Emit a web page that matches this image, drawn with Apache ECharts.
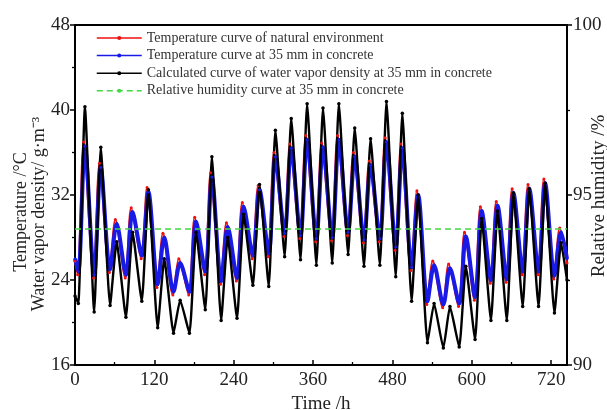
<!DOCTYPE html>
<html>
<head>
<meta charset="utf-8">
<script src="https://cdn.jsdelivr.net/npm/echarts@6/dist/echarts.min.js"></script>
<style>
html,body{margin:0;padding:0;background:#fff;}
#chart{width:607px;height:410px;}
</style>
</head>
<body>
<div id="chart"></div>
<script>
// Time (h) of readings: start, then daily trough / peak, then end
const hours = [0,5,15,29,39,53,63,77,87,101,111,125,135,149,159,173,183,197,207,221,231,245,255,269,279,293,303,317,327,341,351,365,375,389,399,413,423,437,447,461,471,485,495,509,519,533,543,557,567,581,591,605,615,629,639,653,663,677,687,701,711,725,735,744];
const naturalHours = [0,4,13,28,37,52,61,76,85,100,109,124,133,148,157,172,181,196,205,220,229,244,253,268,277,292,301,316,325,340,349,364,373,388,397,412,421,436,445,460,469,484,493,508,517,532,541,556,565,580,589,604,613,628,637,652,661,676,685,700,709,724,733,744];

// Temperature of natural environment (°C)
const tempNatural = [25.8, 24.5,37.0, 24.2,35.0, 24.7,29.7, 24.2,30.8, 26.0,32.7, 23.3,28.4, 22.6,26.0, 22.6,29.9, 24.5,34.1, 23.6,29.4, 23.9,31.3, 26.0,32.9, 26.2,36.0, 28.1,36.8, 27.9,37.6, 27.6,36.9, 27.7,37.6, 28.2,36.0, 27.5,35.2, 27.6,37.4, 26.8,36.8, 24.9,32.4, 21.7,25.8, 21.4,25.5, 21.5,28.5, 22.1,30.9, 23.7,31.4, 23.8,32.6, 24.5,33.0, 24.5,33.5, 24.1,28.9, 25.6];

// Temperature at 35 mm in concrete (°C)
const temp35 = [26.0, 24.8,36.6, 24.5,34.6, 25.0,29.3, 24.5,30.4, 26.3,32.3, 23.6,28.0, 22.9,25.6, 22.9,29.5, 24.8,33.7, 23.9,29.0, 24.2,30.9, 26.3,32.5, 26.5,35.6, 28.4,36.4, 28.2,37.2, 27.9,36.5, 28.0,37.2, 28.5,35.6, 27.8,34.8, 27.9,37.0, 27.1,36.4, 25.2,32.0, 22.0,25.4, 21.7,25.1, 21.8,28.1, 22.4,30.5, 24.0,31.0, 24.1,32.2, 24.8,32.6, 24.8,33.1, 24.4,28.5, 26.0];

// Calculated water vapor density at 35 mm (g/m3)
const vaporDensity = [22.5, 21.8,40.3, 21.0,36.5, 21.6,27.6, 20.5,28.5, 22.0,32.5, 19.5,26.0, 19.0,22.1, 19.0,28.5, 21.2,35.6, 20.2,28.0, 20.4,30.2, 23.5,33.0, 23.4,38.1, 26.2,39.2, 25.9,40.6, 25.4,40.2, 25.6,40.6, 26.4,38.3, 25.3,37.3, 25.4,40.8, 24.3,39.7, 22.0,32.0, 18.1,21.8, 17.6,21.5, 17.7,25.3, 18.4,29.8, 20.2,30.5, 20.2,32.2, 21.5,32.6, 21.5,33.1, 20.9,27.5, 24.0];

// Relative humidity at 35 mm (%)
const rhHours = [0, 744];
const rhValues = [94.0, 94.0];

const xTicks = {min: 0, max: 744, interval: 120};
const leftTicks = {min: 16, max: 48, interval: 8};
const rightTicks = {min: 90, max: 100, interval: 5};

const names = [
  'Temperature curve of natural environment',
  'Temperature curve at 35 mm in concrete',
  'Calculated curve of water vapor density at 35 mm in concrete',
  'Relative humidity curve at 35 mm in concrete'
];
const leftNames = ['Temperature /°C', 'Water vapor density/ g·m⁻³'];
const rightName = 'Relative humidity /%';

function zip(xs, ys) { return xs.map((x, i) => [x, ys[i]]); }

const FONT = 'Liberation Serif';
const chart = echarts.init(document.getElementById('chart'), null, {renderer: 'canvas'});
const axisLineStyle = {color: '#000', width: 2};
const tickFont = {fontFamily: FONT, fontSize: 19, color: '#222'};

chart.setOption({
  animation: false,
  grid: {left: 75, right: 40, top: 25, bottom: 45, containLabel: false, outerBoundsMode: 'none'},
  legend: {
    orient: 'vertical', left: 91, top: 26,
    itemWidth: 45, itemHeight: 5, itemGap: 3.6,
    lineStyle: {width: 1.5},
    textStyle: {fontFamily: FONT, fontSize: 14, lineHeight: 14, color: '#333'},
    data: names
  },
  xAxis: [{
    type: 'value', min: xTicks.min, max: xTicks.max, interval: xTicks.interval,
    axisLine: {show: true, onZero: false, lineStyle: axisLineStyle},
    axisTick: {show: true, inside: true, length: 5, lineStyle: {width: 1.5}},
    minorTick: {show: true, splitNumber: 2, length: 3, lineStyle: {color: '#000', width: 1.3}},
    axisLabel: Object.assign({showMaxLabel: false, margin: 6}, tickFont),
    splitLine: {show: false},
    name: 'Time /h', nameLocation: 'middle', nameGap: 26,
    nameTextStyle: {fontFamily: FONT, fontSize: 19, color: '#222'}
  }, {
    type: 'value', position: 'top', min: xTicks.min, max: xTicks.max,
    axisLine: {show: true, onZero: false, lineStyle: axisLineStyle},
    axisTick: {show: false}, axisLabel: {show: false}, splitLine: {show: false}
  }],
  yAxis: [{
    type: 'value', min: leftTicks.min, max: leftTicks.max, interval: leftTicks.interval,
    axisLine: {show: true, onZero: false, lineStyle: axisLineStyle},
    axisTick: {show: true, length: 5, lineStyle: {width: 1.5}},
    minorTick: {show: true, splitNumber: 2, length: 3, lineStyle: {color: '#000', width: 1.3}},
    axisLabel: Object.assign({margin: 5}, tickFont),
    splitLine: {show: false}
  }, {
    type: 'value', position: 'right', min: rightTicks.min, max: rightTicks.max, interval: rightTicks.interval,
    axisLine: {show: true, onZero: false, lineStyle: axisLineStyle},
    axisTick: {show: true, length: 5, lineStyle: {width: 1.5}},
    minorTick: {show: true, splitNumber: 2, length: 3, lineStyle: {color: '#000', width: 1.3}},
    axisLabel: Object.assign({margin: 6}, tickFont),
    splitLine: {show: false}
  }],
  graphic: [{
    type: 'text', x: 21, y: 212, rotation: Math.PI / 2,
    style: {text: leftNames[0], font: '18px "Liberation Serif"', fill: '#222', align: 'center', verticalAlign: 'middle'}
  }, {
    type: 'text', x: 39, y: 214, rotation: Math.PI / 2,
    style: {text: leftNames[1], font: '18px "Liberation Serif"', fill: '#222', align: 'center', verticalAlign: 'middle'}
  }, {
    type: 'text', x: 599, y: 196, rotation: Math.PI / 2,
    style: {text: rightName, font: '19px "Liberation Serif"', fill: '#222', align: 'center', verticalAlign: 'middle'}
  }],
  series: [{
    name: names[0], type: 'line', data: zip(naturalHours, tempNatural),
    smooth: 0.3, symbol: 'circle', symbolSize: 3,
    lineStyle: {color: '#ee1111', width: 2}, itemStyle: {color: '#ee1111'}
  }, {
    name: names[1], type: 'line', data: zip(hours, temp35),
    smooth: 0.3, symbol: 'circle', symbolSize: 3,
    lineStyle: {color: '#1a1ae6', width: 4}, itemStyle: {color: '#1a1ae6'}
  }, {
    name: names[2], type: 'line', data: zip(hours, vaporDensity),
    smooth: 0.15, symbol: 'circle', symbolSize: 3.5,
    lineStyle: {color: '#000', width: 2.4}, itemStyle: {color: '#000'}
  }, {
    name: names[3], type: 'line', yAxisIndex: 1, data: zip(rhHours, rhValues),
    symbol: 'none', z: 5,
    lineStyle: {color: '#44d844', width: 1.6, type: [6, 4]}, itemStyle: {color: '#44d844'}
  }]
});
</script>
</body>
</html>
